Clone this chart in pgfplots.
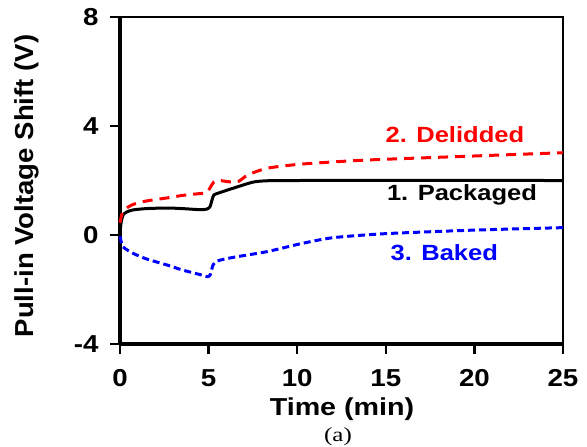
\documentclass[border=0pt]{standalone}
\usepackage{fontspec}
\setmainfont{Liberation Sans}
\newfontfamily\seriffont[FakeStretch=1.25]{Liberation Serif}
\newfontfamily\tickfont[FakeStretch=1.13]{Liberation Sans}
\newfontfamily\annfont[FakeStretch=1.16]{Liberation Sans}
\newfontfamily\xlabfont[FakeStretch=1.17]{Liberation Sans}
\newfontfamily\ylabfont[FakeStretch=1.06]{Liberation Sans}
\usepackage{pgfplots}
\pgfplotsset{compat=1.18}
\begin{document}
\begin{tikzpicture}[x=1pt,y=1pt]
\begin{axis}[
  at={(0,0)}, anchor=south west,
  scale only axis, width=443pt, height=327pt,
  xmin=0, xmax=25, ymin=-4, ymax=8,
  axis x line*=bottom, axis y line*=left,
  axis line style={line width=3.5pt, -},
  xtick={0,5,10,15,20,25}, ytick={-4,0,4,8},
  tick align=outside, major tick length=10pt,
  tick style={line width=2.5pt, black},
  /pgf/number format/assume math mode=true,
  ticklabel style={font=\tickfont\fontsize{24.5}{28}\selectfont\bfseries},
  xticklabel style={yshift=-12pt},
  yticklabel style={xshift=-8pt},
  clip=false,
]
\draw[line width=2pt] (rel axis cs:0,1) -- (rel axis cs:1,1) -- (rel axis cs:1,0);
\addplot[black, line width=3pt, smooth, tension=0.4] coordinates {
(0,0) (0.05,0.4) (0.17,0.73) (0.4,0.85) (0.73,0.92) (1.5,0.97) (2.65,0.99) (3.5,0.97) (4.5,0.93) (4.9,0.95) (5.08,1.04) (5.2,1.3) (5.3,1.47) (5.6,1.55) (6.4,1.72) (7.5,1.94) (8.3,1.99) (10,2.0) (25,2.0)};
\addplot[red, line width=3pt, dash pattern=on 10pt off 7pt, smooth, tension=0.4] coordinates {
(0,0.45) (0.1,0.75) (0.3,0.95) (0.73,1.12) (1.5,1.25) (2.65,1.36) (3.5,1.45) (4.5,1.52) (4.9,1.55) (5.1,1.75) (5.3,1.95) (5.6,2.0) (6.2,1.95) (6.7,1.97) (7.2,2.2) (8.3,2.45) (10.2,2.6) (13,2.72) (15,2.78) (20,2.9) (25,3.02)};
\addplot[blue, line width=3pt, dash pattern=on 7pt off 4pt, smooth, tension=0.4] coordinates {
(0,-0.05) (0.17,-0.43) (0.73,-0.67) (1.5,-0.88) (2.65,-1.1) (3.5,-1.28) (4.5,-1.45) (4.95,-1.53) (5.1,-1.45) (5.25,-1.1) (5.5,-0.95) (6.4,-0.82) (8.3,-0.61) (10.2,-0.32) (12,-0.1) (15,0.05) (20,0.18) (25,0.27)};
\node[red, font=\annfont\fontsize{22}{26}\selectfont\bfseries] at (axis cs:18.9,3.7) {2. Delidded};
\node[black, font=\annfont\fontsize{22}{26}\selectfont\bfseries] at (axis cs:19.3,1.47) {1. Packaged};
\node[blue, font=\annfont\fontsize{22}{26}\selectfont\bfseries] at (axis cs:18.3,-0.66) {3. Baked};
\end{axis}
\node[font=\xlabfont\fontsize{24.5}{28}\selectfont\bfseries] at (222,-65) {Time (min)};
\node[font=\seriffont\fontsize{20}{22}\selectfont] at (218,-93) {(a)};
\node[rotate=90, font=\ylabfont\fontsize{26}{28}\selectfont\bfseries] at (-93,158) {Pull-in Voltage Shift (V)};
\pgfresetboundingbox
\path[use as bounding box] (-120,-103) rectangle (467,344);
\end{tikzpicture}
\end{document}
